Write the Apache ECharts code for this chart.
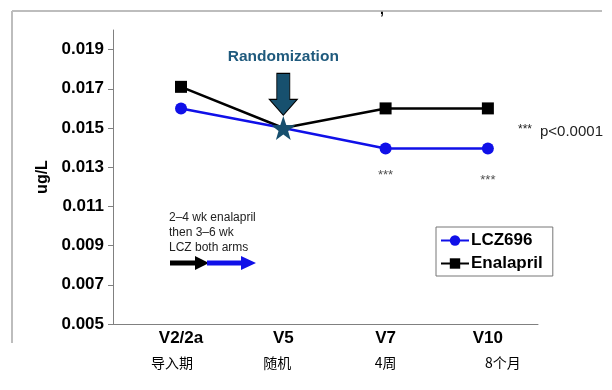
<!DOCTYPE html>
<html><head><meta charset="utf-8">
<script src="https://cdn.jsdelivr.net/npm/echarts@6/dist/echarts.min.js"></script>
<style>html,body{margin:0;padding:0;background:#fff}#c{width:612px;height:390px}</style>
</head><body><div id="c"></div>
<script>
const categories = ['V2/2a', 'V5', 'V7', 'V10'];
const subLabels = ['导入期', '随机', '4周', '8个月'];
const lcz696 = [0.0160, 0.0150, 0.01395, 0.01395];
const enalapril = [0.0171, 0.0150, 0.0160, 0.0160];
const yTicks = [0.005, 0.007, 0.009, 0.011, 0.013, 0.015, 0.017, 0.019];
const randomizationIndex = 1;
const randomizationValue = 0.0150;
const arrowValue = 0.01672;
const sigIndices = [2, 3];

const chart = echarts.init(document.getElementById('c'), null, {renderer: 'canvas'});
const F = 'Arial, "Liberation Sans", sans-serif';
const starPath = 'path://M0,-10 L2.35,-3.24 L9.51,-3.09 L3.8,1.24 L5.88,8.09 L0,4 L-5.88,8.09 L-3.8,1.24 L-9.51,-3.09 L-2.35,-3.24 Z';
const arrowPath = 'path://M7.5,0 L20.5,0 L20.5,26 L28,26 L14,42 L0,26 L7.5,26 Z';

function lineData(arr) {
  return arr.map((v, i) => i === randomizationIndex ? {value: [i, v], symbol: 'none'} : [i, v]);
}

const option = {
  animation: false,
  backgroundColor: '#fff',
  grid: {left: 113, right: 74, top: 30, bottom: 66, containLabel: false},
  xAxis: {
    type: 'value', min: -0.665, max: 3.49,
    axisLine: {show: true, onZero: false, lineStyle: {color: '#808080', width: 1}},
    axisTick: {show: false},
    splitLine: {show: false},
    axisLabel: {
      customValues: [0, 1, 2, 3], margin: 3, color: '#000',
      formatter: v => { const i = Math.round(v); return '{a|' + categories[i] + '}\n{b' + i + '|' + subLabels[i] + '}'; },
      rich: {
        a: {fontFamily: F, fontSize: 17, fontWeight: 'bold', color: '#000', lineHeight: 22},
        b0: {fontFamily: '"Noto Sans CJK SC"', fontSize: 14, color: '#000', lineHeight: 28, padding: [0, 18, 0, 0]},
        b1: {fontFamily: '"Noto Sans CJK SC"', fontSize: 14, color: '#000', lineHeight: 28, padding: [0, 12, 0, 0]},
        b2: {fontFamily: '"Noto Sans CJK SC"', fontSize: 14, color: '#000', lineHeight: 28},
        b3: {fontFamily: '"Noto Sans CJK SC"', fontSize: 14, color: '#000', lineHeight: 28, padding: [0, 0, 0, 30]}
      }
    }
  },
  yAxis: {
    type: 'value', min: 0.005, max: 0.020,
    name: 'ug/L', nameLocation: 'middle', nameGap: 61, nameRotate: 90,
    nameTextStyle: {fontFamily: F, fontSize: 16, fontWeight: 'bold', color: '#000'},
    axisLine: {show: true, onZero: false, lineStyle: {color: '#808080', width: 1}},
    axisTick: {show: true, customValues: yTicks, length: 5, lineStyle: {color: '#808080'}},
    splitLine: {show: false},
    axisLabel: {customValues: yTicks, margin: 9, fontFamily: F, fontSize: 17, fontWeight: 'bold', color: '#000',
      formatter: v => v.toFixed(3)}
  },
  legend: {
    orient: 'vertical', left: 436, top: 227, padding: [5, 10, 4, 4],
    itemWidth: 28, itemHeight: 13, itemGap: 6,
    borderColor: '#777', borderWidth: 1, backgroundColor: '#fff',
    textStyle: {fontFamily: F, fontSize: 17, fontWeight: 'bold', color: '#000', padding: [0, 0, 0, -3]},
    data: ['LCZ696', 'Enalapril']
  },
  series: [
    {name: 'Enalapril', type: 'line', data: lineData(enalapril), z: 3,
      symbol: 'rect', symbolSize: 12, lineStyle: {color: '#000', width: 2.5},
      itemStyle: {color: '#000'}},
    {name: 'LCZ696', type: 'line', data: lineData(lcz696), z: 4,
      symbol: 'circle', symbolSize: 12, lineStyle: {color: '#1010e8', width: 2.5},
      itemStyle: {color: '#1010e8'}},
    {name: 'star', type: 'scatter', data: [[randomizationIndex, randomizationValue]], z: 6,
      symbol: starPath, symbolSize: 24, itemStyle: {color: '#174f6e', opacity: 1}},
    {name: 'arrow', type: 'scatter', data: [[randomizationIndex, arrowValue]], z: 6,
      symbol: arrowPath, symbolSize: [28, 42],
      itemStyle: {color: '#17506e', borderColor: '#000', borderWidth: 1, opacity: 1},
      label: {show: true, position: 'top', distance: 8, formatter: 'Randomization',
        fontFamily: F, fontSize: 15.5, fontWeight: 'bold', color: '#1f5a7d'}},
    {name: 'sig', type: 'scatter', symbolSize: 0,
      data: sigIndices.map((i, k) => ({value: [i, lcz696[i]], label: {offset: [0, k === 0 ? 15 : 20]}})),
      label: {show: true, position: 'bottom', formatter: '***', fontFamily: F, fontSize: 13, color: '#222'}}
  ],
  graphic: [
    {type: 'line', shape: {x1: 12, y1: 11, x2: 602, y2: 11}, style: {stroke: '#bdbdbd', lineWidth: 2}},
    {type: 'line', shape: {x1: 12, y1: 11, x2: 12, y2: 343}, style: {stroke: '#bdbdbd', lineWidth: 2}},
    {type: 'text', left: 380, top: 3, style: {text: ',', font: 'bold 14px Arial', fill: '#000'}},
    {type: 'text', left: 518, top: 124, style: {text: '{s|***}{p|p<0.0001}', rich: {
      s: {fontFamily: F, fontSize: 12, fill: '#222', verticalAlign: 'top', padding: [0, 8, 0, 0]},
      p: {fontFamily: F, fontSize: 15, fill: '#222'}}}},
    {type: 'text', left: 169, top: 210, style: {text: '2–4 wk enalapril\nthen 3–6 wk\nLCZ both arms', font: '12px Arial', fill: '#222', lineHeight: 15}},
    {type: 'polygon', shape: {points: [[170, 260.5], [195, 260.5], [195, 256], [209, 263], [195, 270], [195, 265.5], [170, 265.5]]}, style: {fill: '#000'}},
    {type: 'polygon', shape: {points: [[207, 260.5], [241, 260.5], [241, 256], [256, 263], [241, 270], [241, 265.5], [207, 265.5]]}, style: {fill: '#1010e8'}, z: 1}
  ]
};
chart.setOption(option);
</script></body></html>
